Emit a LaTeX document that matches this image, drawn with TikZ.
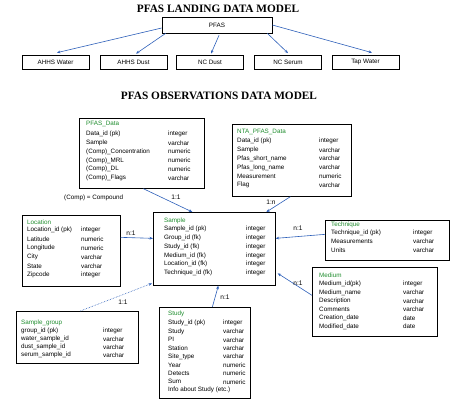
\documentclass[tikz,border=0pt]{standalone}
\usepackage{fontspec}
\setmainfont{Liberation Serif}
\setsansfont{Liberation Sans}
\usetikzlibrary{arrows.meta}
\definecolor{lnk}{RGB}{45,95,185}
\definecolor{ttl}{RGB}{30,140,45}
\tikzset{
  lab/.style={inner sep=0pt, anchor=west, font=\sffamily\fontsize{6.3}{7}\selectfont},
  clab/.style={inner sep=0pt, font=\sffamily\fontsize{6.6}{7}\selectfont},
  ebox/.style={draw, line width=0.7pt, inner sep=0pt, anchor=north west},
  lbox/.style={draw, line width=0.7pt, inner sep=0pt, minimum width=67pt, minimum height=14pt, font=\sffamily\fontsize{6.3}{7}\selectfont},
  conn/.style={draw=lnk, line width=0.6pt, -{Stealth[length=3.5pt,width=2.8pt]}},
  bigtitle/.style={inner sep=0pt, font=\rmfamily\bfseries\fontsize{11.3}{13}\selectfont},
}
\newcommand\erows[5]{%
  \foreach \a/\b [count=\i from 0] in {#5} {
    \node[lab] at (#1, #3+\i*#4) {\a};
    \node[lab] at (#2, #3+\i*#4) {\b};
  }}
\begin{document}
\begin{tikzpicture}[x=1pt,y=-1pt]
\useasboundingbox (0,0) rectangle (468,401);
% ---------- landing model ----------
\node[bigtitle] (t1) at (218,9) {PFAS LANDING DATA MODEL};
\node[draw, line width=0.7pt, minimum width=110pt, minimum height=16pt, inner sep=0pt, font=\sffamily\fontsize{6.3}{7}\selectfont] (pfas) at (217,25) {PFAS};
\node[lbox] (ahhsw) at (55.5,62) {AHHS Water};
\node[lbox] (ahhsd) at (133.5,62) {AHHS Dust};
\node[lbox] (ncd) at (210,62) {NC Dust};
\node[lbox] (ncs) at (288,62) {NC Serum};
\node[lbox] (tapw) at (365.5,62) {Tap Water};
\draw[conn] ([yshift=-3pt]pfas.west) -- ([xshift=1.5pt,yshift=2pt]ahhsw.north);
\draw[conn] ([xshift=4pt]pfas.south west) -- ([xshift=2.5pt,yshift=1pt]ahhsd.north);
\draw[conn] ([xshift=2pt,yshift=-2pt]pfas.south) -- ([xshift=1pt,yshift=1pt]ncd.north);
\draw[conn] ([xshift=-5pt]pfas.south east) -- ([yshift=1.5pt]ncs.north);
\draw[conn] ([yshift=0pt]pfas.east) -- ([xshift=6.5pt,yshift=2pt]tapw.north);
% ---------- observations model ----------
\node[bigtitle] (t2) at (219,96) {PFAS OBSERVATIONS DATA MODEL};
% PFAS_Data
\node[ebox, minimum width=125pt, minimum height=70pt] (pfasdata) at (79,118) {};
\node[lab, text=ttl] (pfasdatat) at (86,124) {PFAS\_Data};
\erows{86}{168}{134}{8.8}{Data\_id (pk)/integer, Sample/varchar, (Comp)\_Concentration/numeric, (Comp)\_MRL/numeric, (Comp)\_DL/numeric, (Comp)\_Flags/varchar}
\node[lab] (compnote) at (64,198) {(Comp) = Compound};
% NTA_PFAS_Data
\node[ebox, minimum width=119pt, minimum height=72pt] (nta) at (232,124) {};
\node[lab, text=ttl] (ntat) at (237,132) {NTA\_PFAS\_Data};
\erows{237}{319}{141}{8.8}{Data\_id (pk)/integer, Sample/varchar, Pfas\_short\_name/varchar, Pfas\_long\_name/varchar, Measurement/numeric, Flag/varchar}
% Location
\node[ebox, minimum width=98pt, minimum height=71pt] (loc) at (22,215) {};
\node[lab, text=ttl] (loct) at (27,222) {Location};
\erows{27}{81}{230}{9}{Location\_id (pk)/integer, Latitude/numeric, Longitude/numeric, City/varchar, State/varchar, Zipcode/integer}
% Sample
\node[ebox, minimum width=122pt, minimum height=73pt] (sample) at (153,212) {};
\node[lab, text=ttl] (samplet) at (164,221) {Sample};
\erows{164}{246}{229}{8.8}{Sample\_id (pk)/integer, Group\_id (fk)/integer, Study\_id (fk)/integer, Medium\_id (fk)/integer, Location\_id (fk)/integer, Technique\_id (fk)/integer}
% Technique
\node[ebox, minimum width=124pt, minimum height=40pt] (tech) at (325,220) {};
\node[lab, text=ttl] (techt) at (331,225) {Technique};
\erows{331}{413}{233}{8.5}{Technique\_id (pk)/integer, Measurements/varchar, Units/varchar}
% Medium
\node[ebox, minimum width=125pt, minimum height=69pt] (medium) at (312,267) {};
\node[lab, text=ttl] (mediumt) at (319,275) {Medium};
\erows{319}{403}{284}{8.5}{Medium\_id(pk)/integer, Medium\_name/varchar, Description/varchar, Comments/varchar, Creation\_date/date, Modified\_date/date}
% Sample_group
\node[ebox, minimum width=122pt, minimum height=52pt] (sgroup) at (16,311) {};
\node[lab, text=ttl] (sgroupt) at (21,323) {Sample\_group};
\erows{21}{103}{331}{8}{group\_id (pk)/integer, water\_sample\_id/varchar, dust\_sample\_id/varchar, serum\_sample\_id/varchar}
% Study
\node[ebox, minimum width=91pt, minimum height=91pt] (study) at (159,307) {};
\node[lab, text=ttl] (studyt) at (168,314) {Study};
\erows{168}{223}{323}{8.4}{Study\_id (pk)/integer, Study/varchar, PI/varchar, Station/varchar, Site\_type/varchar, Year/numeric, Detects/numeric, Sum/numeric}
\node[lab] (studyinfo) at (168,390.2) {Info about Study (etc.)};
% connectors
\draw[conn] ([xshift=1.5pt]pfasdata.south) -- ([xshift=-22pt]sample.north);
\draw[conn] ([xshift=-1.5pt]nta.south) -- ([xshift=52pt]sample.north);
\draw[conn] ([yshift=13.5pt]loc.east) -- ([yshift=10.5pt]sample.west);
\draw[conn] ([yshift=6pt]tech.west) -- ([yshift=10.5pt]sample.east);
\draw[conn] ([yshift=6.5pt]medium.west) -- ([xshift=2pt,yshift=-24.5pt]sample.east);
\draw[conn] ([xshift=7.5pt]study.north) -- ([xshift=4pt]sample.south);
\draw[conn, densely dotted] ([xshift=3pt]sgroup.north) -- ([xshift=-1pt,yshift=-34.5pt]sample.west);
% cardinality labels
\node[clab] (c1) at (176,197) {1:1};
\node[clab] (c2) at (271,202) {1:n};
\node[clab] (c3) at (131,233) {n:1};
\node[clab] (c4) at (298,228) {n:1};
\node[clab] (c5) at (298,283) {n:1};
\node[clab] (c6) at (225,297) {n:1};
\node[clab] (c7) at (123,302) {1:1};
\end{tikzpicture}
\end{document}
